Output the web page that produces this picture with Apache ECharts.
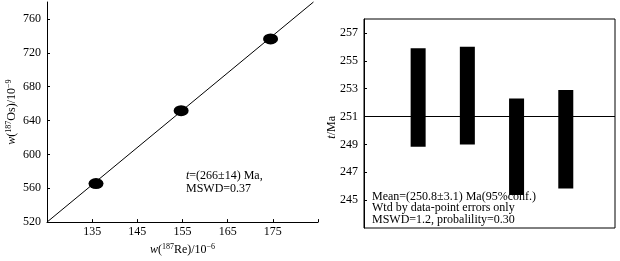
<!DOCTYPE html>
<html>
<head>
<meta charset="utf-8">
<script src="https://cdn.jsdelivr.net/npm/echarts@6/dist/echarts.min.js"></script>
<style>html,body{margin:0;padding:0;background:#fff}#c{width:620px;height:261px}</style>
</head>
<body>
<div id="c"></div>
<script>
// Left: Re-Os isochron
const reValues = [135.85, 154.7, 174.5];       // w(187Re)/10^-6
const osValues = [565.5, 651.6, 736.4];        // w(187Os)/10^-9
const isochronX = [125, 184];                  // regression line ends
const isochronY = [520, 780];
const leftXTicks = [135, 145, 155, 165, 175];
const leftYTicks = [520, 560, 600, 640, 680, 720, 760];
// Right: weighted mean ages
const sampleIndex = [1, 2, 3, 4];
const ageLow = [248.83, 249.0, 245.36, 245.84];
const ageHigh = [255.9, 256.0, 252.3, 252.9];
const meanAge = 251;
const rightYTicks = [245, 247, 249, 251, 253, 255, 257];

const FONT = '"Liberation Serif","Times New Roman",serif';
const chart = echarts.init(document.getElementById('c'), null, {renderer: 'canvas'});

const rich = {
  it: {fontStyle: 'italic', fontSize: 12, fontFamily: FONT, color: '#000', lineHeight: 14},
  n: {fontSize: 12, fontFamily: FONT, color: '#000', lineHeight: 14},
  sup: {fontSize: 8, fontFamily: FONT, color: '#000', verticalAlign: 'top', lineHeight: 14}
};

const option = {
  animation: false,
  backgroundColor: '#fff',
  textStyle: {fontFamily: FONT},
  grid: [
    {left: 47, top: 2, width: 271, height: 225, show: false},
    {left: 364, top: 19, width: 251, height: 209, show: true, borderColor: '#000', borderWidth: 1, backgroundColor: 'transparent'}
  ],
  xAxis: [
    {
      gridIndex: 0, type: 'value', min: 125, max: 185, interval: 10,
      axisLine: {show: true, onZero: false, lineStyle: {color: '#000', width: 1}},
      axisTick: {show: true, inside: true, length: 3, lineStyle: {color: '#000'}},
      axisLabel: {color: '#000', fontSize: 12, fontFamily: FONT, margin: 4,
        formatter: v => leftXTicks.includes(v) ? String(v) : ''},
      splitLine: {show: false},
      name: '{it|w}{n|(}{sup|187}{n|Re)/10}{sup|−6}',
      nameLocation: 'middle', nameGap: 14,
      nameTextStyle: {rich: rich, verticalAlign: 'top'}
    },
    {
      gridIndex: 1, type: 'value', min: -0.1, max: 5,
      show: false
    }
  ],
  yAxis: [
    {
      gridIndex: 0, type: 'value', min: 520, max: 780, interval: 40,
      axisLine: {show: true, onZero: false, lineStyle: {color: '#000', width: 1}},
      axisTick: {show: true, inside: true, length: 3, lineStyle: {color: '#000'}},
      axisLabel: {color: '#000', fontSize: 12, fontFamily: FONT, margin: 6, showMaxLabel: false,
        formatter: v => leftYTicks.includes(v) ? String(v) : ''},
      splitLine: {show: false},
      name: '{it|w}{n|(}{sup|187}{n|Os)/10}{sup|−9}',
      nameLocation: 'middle', nameGap: 28, nameRotate: 90,
      nameTextStyle: {rich: rich}
    },
    {
      gridIndex: 1, type: 'value', min: 243, max: 258, interval: 2,
      axisLine: {show: true, onZero: false, lineStyle: {color: '#000', width: 1}},
      axisTick: {show: true, inside: true, length: 3, lineStyle: {color: '#000'}},
      axisLabel: {color: '#000', fontSize: 12, fontFamily: FONT, margin: 6, showMinLabel: false, showMaxLabel: false,
        formatter: v => rightYTicks.includes(v) ? String(v) : ''},
      splitLine: {show: false}
    }
  ],
  series: [
    {
      type: 'line', xAxisIndex: 0, yAxisIndex: 0,
      data: isochronX.map((x, i) => [x, isochronY[i]]),
      symbol: 'none', lineStyle: {color: '#000', width: 1}, silent: true, clip: false
    },
    {
      type: 'scatter', xAxisIndex: 0, yAxisIndex: 0,
      data: reValues.map((x, i) => [x, osValues[i]]),
      symbol: 'circle', symbolSize: [15, 11],
      itemStyle: {color: '#000', opacity: 1}
    },
    {
      type: 'custom', xAxisIndex: 1, yAxisIndex: 1,
      data: sampleIndex.map((x, i) => [x, ageLow[i], ageHigh[i]]),
      renderItem: function (params, api) {
        const lo = api.coord([api.value(0), api.value(1)]);
        const hi = api.coord([api.value(0), api.value(2)]);
        const w = 15;
        return {type: 'rect', shape: {x: lo[0] - w / 2, y: hi[1], width: w, height: lo[1] - hi[1]}, style: {fill: '#000'}};
      },
      markLine: {
        silent: true, symbol: 'none', label: {show: false},
        lineStyle: {color: '#000', width: 1, type: 'solid'},
        data: [{yAxis: meanAge}]
      }
    }
  ],
  graphic: [
    {type: 'text', left: 186, top: 170, style: {
      text: '{it|t}{n|=(266±14) Ma,}\n{n|MSWD=0.37}',
      rich: {it: {fontStyle: 'italic', fontSize: 12, fontFamily: FONT, fill: '#000', lineHeight: 13},
             n: {fontSize: 12, fontFamily: FONT, fill: '#000', lineHeight: 13}}
    }},
    {type: 'text', left: 326, top: 116, rotation: Math.PI / 2, style: {
      text: '{it|t}{n|/Ma}',
      align: 'center', verticalAlign: 'middle',
      rich: {it: {fontStyle: 'italic', fontSize: 12, fontFamily: FONT, fill: '#000'},
             n: {fontSize: 12, fontFamily: FONT, fill: '#000'}}
    }},
    {type: 'text', left: 372, top: 191, style: {
      text: 'Mean=(250.8±3.1) Ma(95%conf.)\nWtd by data-point errors only\nMSWD=1.2, probalility=0.30',
      fontSize: 12, fontFamily: FONT, fill: '#000', lineHeight: 11.3
    }}
  ]
};
chart.setOption(option);
</script>
</body>
</html>
